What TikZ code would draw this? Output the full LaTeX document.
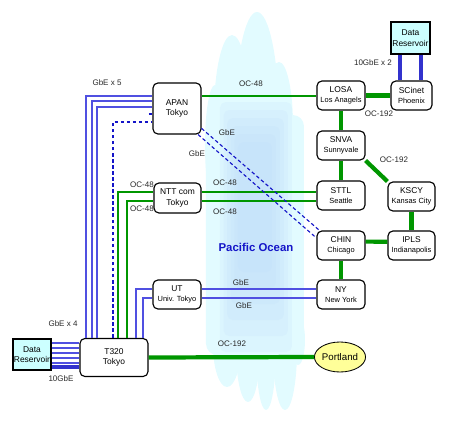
\documentclass[tikz,border=0pt]{standalone}
\usepackage{fontspec}
\setmainfont{Liberation Sans}
\usepackage{tikz}
\usetikzlibrary{shapes,arrows,positioning}
\definecolor{netblue}{RGB}{80,80,225}
\definecolor{dashblue}{RGB}{20,20,200}
\definecolor{fatblue}{RGB}{50,50,205}
\definecolor{netgreen}{RGB}{0,150,0}
\definecolor{resfill}{RGB}{204,255,255}
\definecolor{portfill}{RGB}{255,255,153}
\definecolor{cloudout}{RGB}{226,251,255}
\definecolor{cloudin}{RGB}{188,218,250}
\definecolor{labgray}{RGB}{40,40,40}
\newcommand\cityname{\fontsize{5.3}{6.6}\selectfont}

\begin{document}
\begin{tikzpicture}[x=0.025cm,y=-0.025cm,
	site/.style={draw,line width=0.8pt,rounded corners=3.5pt,fill=white,inner sep=0pt,align=center,
		minimum width=1.2cm,minimum height=0.725cm,font=\fontsize{6}{7.2}\selectfont},
	reservoir/.style={draw,line width=0.8pt,fill=resfill,inner sep=0pt,align=center,
		minimum width=0.975cm,minimum height=0.8cm,font=\fontsize{6}{7.4}\selectfont},
	gbe/.style={netblue,line width=0.8pt},
	gbedash/.style={dashblue,line width=0.8pt,dash pattern=on 2.5pt off 1.8pt},
	tengbe/.style={fatblue,line width=2.8pt},
	oc48/.style={netgreen,line width=1.5pt},
	oc192/.style={netgreen,line width=3pt},
	lab/.style={font=\fontsize{5.7}{6}\selectfont,text=labgray,inner sep=0pt}]
			 	\useasboundingbox (0,0) rectangle (450,422);
				\fill[cloudout] (257,120) ellipse [x radius=0.55cm,y radius=2.7cm];
				\fill[cloudout] (232,115) ellipse [x radius=0.45cm,y radius=2cm];
				\fill[cloudout] (279,125) ellipse [x radius=0.35cm,y radius=1.575cm];
				\fill[cloudout] (215,145) ellipse [x radius=0.25cm,y radius=1.5cm];
				\fill[cloudout,rounded corners=8pt] (206,115) rectangle (304,355);
				\fill[cloudout] (227,345) ellipse [x radius=0.35cm,y radius=1.05cm];
				\fill[cloudout] (248,350) ellipse [x radius=0.3cm,y radius=1.3cm];
				\fill[cloudout] (266,350) ellipse [x radius=0.25cm,y radius=1.5cm];
				\fill[cloudout] (285,350) ellipse [x radius=0.3cm,y radius=1.5cm];
				\fill[cloudout] (298,340) ellipse [x radius=0.175cm,y radius=0.625cm];
				\foreach \i in {0,...,5}
					\fill[cloudin,opacity=0.16,rounded corners=4pt] (220+3.6*\i,102+8*\i) rectangle (292-4*\i,352-16*\i);
				\node[font=\bfseries\fontsize{8.1}{9}\selectfont,text=dashblue] (ocean) at (256,247) {Pacific Ocean};

				\node[site,minimum height=1.275cm] (apan) at (177,108.5) {APAN\\Tokyo};
				\node[site,minimum width=1.175cm,minimum height=0.75cm] (ntt) at (177.5,198) {NTT com\\Tokyo};
				\node[site] (ut) at (177,294.5) {UT\\\cityname Univ. Tokyo};
				\node[site,minimum width=1.7cm,minimum height=0.95cm] (t320) at (114,357.5) {T320\\Tokyo};
				\node[reservoir,minimum width=0.95cm,minimum height=0.775cm] (drl) at (32,354.5) {Data\\Reservoir};
				\node[reservoir] (drr) at (410.5,38) {Data\\Reservoir};
				\node[site] (losa) at (341,95.5) {LOSA\\\cityname Los Anagels};
				\node[site,minimum width=1.025cm] (scinet) at (411.5,95.5) {SCinet\\\cityname Phoenix};
				\node[site] (snva) at (341,145.5) {SNVA\\\cityname Sunnyvale};
				\node[site] (sttl) at (341,195.5) {STTL\\\cityname Seattle};
				\node[site,minimum width=1.175cm] (kscy) at (411.5,196.5) {KSCY\\\cityname Kansas City};
				\node[site] (chin) at (341,245.5) {CHIN\\\cityname Chicago};
				\node[site,minimum width=1.175cm] (ipls) at (411.5,245.5) {IPLS\\\cityname Indianapolis};
				\node[site] (ny) at (341,294.5) {NY\\\cityname New York};
				\node[ellipse,draw,line width=0.6pt,fill=portfill,inner sep=0pt,minimum width=1.1cm,minimum height=0.75cm,
					font=\fontsize{6.9}{8}\selectfont] (portland) at (340,357) {Portland};

				\path (86,96) coordinate (g1) ;
				\path (92,101) coordinate (g2) ;
				\path (97,107) coordinate (g3) ;
				\path (113,122) coordinate (g4) ;
				\path (149,114) coordinate (g5) ;
				\path (118,192) coordinate (o1) ;
				\path (127,201) coordinate (o2) ;
				\path (136,289) coordinate (u1) ;
				\path (143,298) coordinate (u2) ;
				\path (400,0) coordinate (b1) ;
				\path (421,0) coordinate (b2) ;
				\path (0,367) coordinate (h10) ;

				\draw[gbe] (t320.north -| g1) |- (apan.west |- g1);
				\draw[gbe] (t320.north -| g2) |- (apan.west |- g2);
				\draw[gbe] (t320.north -| g3) |- (apan.west |- g3);
				\draw[gbedash] (t320.north -| g4) |- (apan.west |- g4);
				\draw[gbedash] (g5) -- (apan.west |- g5);
				\draw[oc48] (t320.north -| o1) |- (ntt.west |- o1);
				\draw[oc48] (t320.north -| o2) |- (ntt.west |- o2);
				\draw[gbe] (t320.north -| u1) |- (ut.west |- u1);
				\draw[gbe] (t320.north -| u2) |- (ut.west |- u2);
				\draw[gbe] (ut.east |- u1) -- (ny.west |- u1);
				\draw[gbe] (ut.east |- u2) -- (ny.west |- u2);
				\draw[oc48] (ntt.east |- o1) -- (sttl.west |- o1);
				\draw[oc48] (ntt.east |- o2) -- (sttl.west |- o2);
				\draw[oc48] (apan.east |- g1) -- (losa.west |- g1);
				\draw[gbedash] (apan.-51) -- (chin.163);
				\draw[gbedash] (apan.-39) -- (chin.145);
				\foreach \y in {343,348,353,358,363} {
					\path (0,\y) coordinate (h) ;
					\draw[gbe] (drl.east |- h) -- (t320.west |- h);
				}
				\draw[tengbe] (drl.east |- h10) -- (t320.west |- h10);
				\draw[tengbe] (drr.south -| b1) -- (scinet.north -| b1);
				\draw[tengbe] (drr.south -| b2) -- (scinet.north -| b2);
				\draw[oc192] (losa.east) -- (scinet.west);
				\draw[oc192] (losa) -- (snva);
				\draw[oc192] (snva) -- (sttl);
				\draw[oc192] (snva.south east) -- (kscy.north west);
				\draw[oc192] (kscy) -- (ipls);
				\draw[oc192] (chin.9) -- (ipls.171);
				\draw[oc192] (chin) -- (ny);
				\draw[oc192] (t320.east) -- (portland.west);

				\node[lab] (l1) at (107,83) {GbE x 5};
				\node[lab] (l2) at (142,185) {OC-48};
				\node[lab] (l3) at (142,209) {OC-48};
				\node[lab] (l4) at (225,183) {OC-48};
				\node[lab] (l5) at (225,212) {OC-48};
				\node[lab] (l6) at (251,84) {OC-48};
				\node[lab] (l7) at (227,133) {GbE};
				\node[lab] (l8) at (197,154) {GbE};
				\node[lab] (l9) at (379,114) {OC-192};
				\node[lab] (l10) at (373,63) {10GbE x 2};
				\node[lab] (l11) at (394,160) {OC-192};
				\node[lab] (l12) at (241,283) {GbE};
				\node[lab] (l13) at (244,306) {GbE};
				\node[lab] (l14) at (232,344) {OC-192};
				\node[lab] (l15) at (63,324) {GbE x 4};
				\node[lab] (l16) at (61,379) {10GbE};
				\end{tikzpicture}
\end{document}
